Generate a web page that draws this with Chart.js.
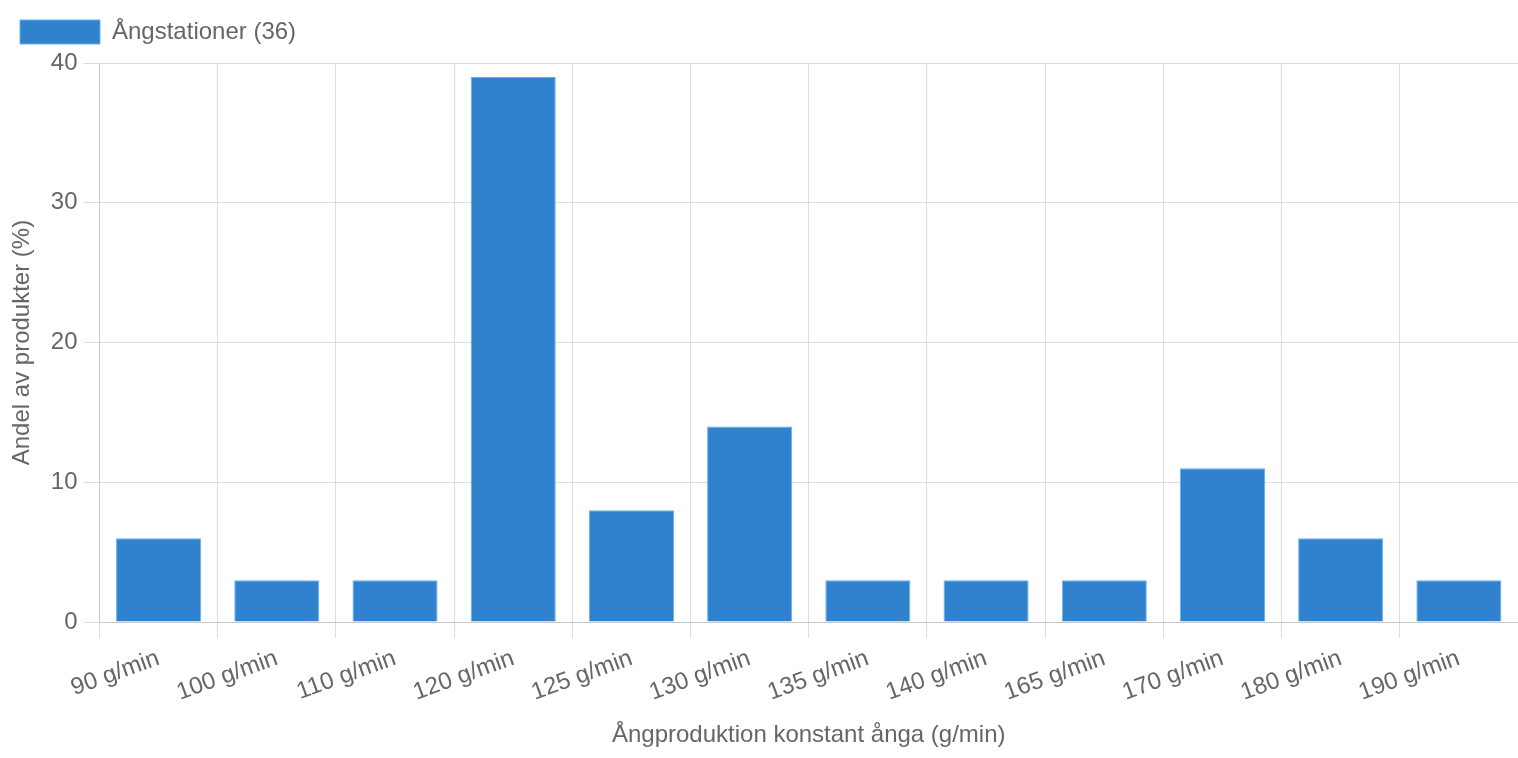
<!DOCTYPE html>
<html>
<head>
<meta charset="utf-8">
<script src="https://cdn.jsdelivr.net/npm/chart.js@4.4.1/dist/chart.umd.min.js"></script>
<style>
  html, body { margin: 0; padding: 0; background: #fff; }
  #wrap { width: 1518px; height: 758px; position: relative; }
</style>
</head>
<body>
<div id="wrap"><canvas id="steamChart"></canvas></div>
<script>
// Ångproduktion per station
const categories = ['90 g/min', '100 g/min', '110 g/min', '120 g/min', '125 g/min', '130 g/min',
                    '135 g/min', '140 g/min', '165 g/min', '170 g/min', '180 g/min', '190 g/min'];
const shareValues = [6, 3, 3, 39, 8, 14, 3, 3, 3, 11, 6, 3];
const seriesLabel = 'Ångstationer (36)';
const yTicks = [0, 10, 20, 30, 40];

Chart.defaults.font.family = '"Liberation Sans", Arial, Helvetica, sans-serif';
Chart.defaults.font.size = 24;
Chart.defaults.color = '#666';

// lite extra luft under legenden
const legendSpacing = {
    id: 'legendSpacing',
    beforeInit(chart) {
        const origFit = chart.legend.fit;
        chart.legend.fit = function () {
            origFit.bind(chart.legend)();
            this.height += 9;
        };
    }
};

const ctx = document.getElementById('steamChart').getContext('2d');
new Chart(ctx, {
    type: 'bar',
    data: {
        labels: categories,
        datasets: [{
            label: seriesLabel,
            data: shareValues,
            backgroundColor: '#3182CE',
            borderColor: '#63B3ED',
            borderWidth: 1
        }]
    },
    options: {
        responsive: true,
        maintainAspectRatio: false,
        animation: false,
        layout: { padding: 0 },
        plugins: {
            legend: {
                align: 'start',
                labels: {
                    boxWidth: 80,
                    boxHeight: 24,
                    padding: 20,
                    color: '#666'
                }
            },
            tooltip: { enabled: false }
        },
        scales: {
            y: {
                min: yTicks[0],
                max: yTicks[yTicks.length - 1],
                ticks: { stepSize: 10, padding: 6 },
                title: {
                    display: true,
                    text: 'Andel av produkter (%)',
                    padding: { top: 8, bottom: 8 }
                },
                grid: { color: '#dddddd', tickLength: 16, lineWidth: 1 },
                border: { color: '#c8c8c8' }
            },
            x: {
                ticks: { minRotation: 20, maxRotation: 20, padding: 6 },
                title: {
                    display: true,
                    text: 'Ångproduktion konstant ånga (g/min)',
                    padding: { top: 8, bottom: 8 }
                },
                grid: { color: '#dddddd', tickLength: 16 },
                border: { color: '#c8c8c8' }
            }
        }
    },
    plugins: [legendSpacing]
});
</script>
</body>
</html>
